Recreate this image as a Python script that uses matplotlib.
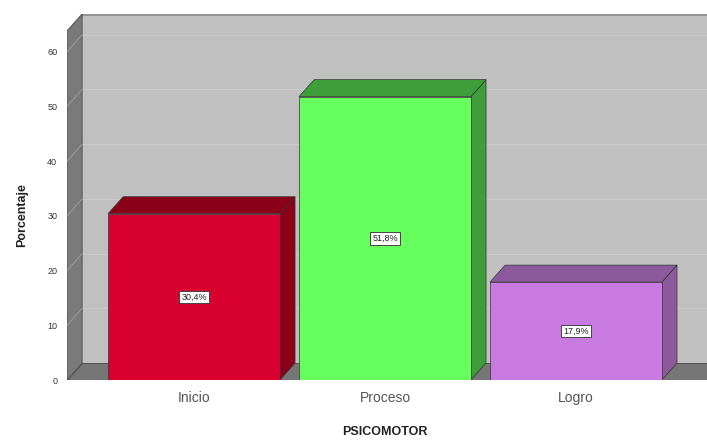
import matplotlib
matplotlib.use("Agg")
import matplotlib.pyplot as plt
from matplotlib.patches import Polygon, Rectangle

plt.rcParams['font.family'] = ['Liberation Sans', 'DejaVu Sans']

# data
categorias = ['Inicio', 'Proceso', 'Logro']
porcentajes = [30.4, 51.8, 17.9]
etiquetas = ['30,4%', '51,8%', '17,9%']
yticks = [0, 10, 20, 30, 40, 50, 60]

# colours (front, top/side)
frente = ['#d8002f', '#66ff5e', '#c97ae0']
lado = ['#8a0019', '#3e9e3a', '#8b5a9c']

# 3d depth offset and limits
dx = 0.079
dy = 3.1
x0, x1 = -0.665, 2.686
ytop = 66.9
w = 0.9

fig = plt.figure(figsize=(7.07, 4.41), dpi=100)
ax = fig.add_axes([67/707, 61/441, 640/707, 366/441])
ax.set_xlim(x0, x1)
ax.set_ylim(0, ytop)
for s in ax.spines.values():
    s.set_visible(False)

# back wall
ax.add_patch(Rectangle((x0+dx, dy), x1-x0-dx, ytop-dy, fc='#c0c0c0', ec='none', zorder=1))
ax.plot([x0+dx, x1], [ytop-0.15, ytop-0.15], color='#8a8a8a', lw=1.2, zorder=1.6)
for v in yticks[1:]:
    ax.plot([x0+dx, x1], [v+dy, v+dy], color='#cbcbcb', lw=0.8, zorder=1.5)
# left wall
ax.add_patch(Polygon([(x0, 0), (x0+dx, dy), (x0+dx, ytop), (x0, ytop-dy)],
                     closed=True, fc='#7a7a7a', ec='#505050', lw=0.7, zorder=2))
for v in yticks[1:]:
    ax.plot([x0, x0+dx], [v, v+dy], color='#a0a0a0', lw=0.6, zorder=2.5)
# floor
ax.add_patch(Polygon([(x0, 0), (x1, 0), (x1, dy), (x0+dx, dy)],
                     closed=True, fc='#767676', ec='#505050', lw=0.7, zorder=2))

# bars
for i, v in enumerate(porcentajes):
    a, b = i - w/2, i + w/2
    ax.add_patch(Polygon([(b, 0), (b+dx, dy), (b+dx, v+dy), (b, v)],
                         closed=True, fc=lado[i], ec='#333333', lw=0.5, zorder=3))
    ax.add_patch(Polygon([(a, v), (b, v), (b+dx, v+dy), (a+dx, v+dy)],
                         closed=True, fc=lado[i], ec='#333333', lw=0.5, zorder=3))
    ax.add_patch(Rectangle((a, 0), w, v, fc=frente[i], ec='#333333', lw=0.5, zorder=4))
    ax.text(i, v/2, etiquetas[i], ha='center', va='center', fontsize=6.5, color='#222222',
            zorder=5, bbox=dict(boxstyle='square,pad=0.2', fc='white', ec='#444444', lw=0.7))

ax.set_yticks(yticks)
ax.set_yticklabels([str(t) for t in yticks], fontsize=6.5, color='#333333')
ax.tick_params(axis='y', length=0, pad=7)
ax.set_xticks(range(len(categorias)))
ax.set_xticklabels(categorias, fontsize=10, color='#555555')
ax.tick_params(axis='x', length=0, pad=8)

fig.text(22/707, 1-215/441, 'Porcentaje', rotation=90, ha='center', va='center',
         fontsize=9, fontweight='bold', color='#222222')
fig.text(385/707, 1-432/441, 'PSICOMOTOR', ha='center', va='center',
         fontsize=9, fontweight='bold', color='#222222')

fig.savefig('out.png', dpi=100)
